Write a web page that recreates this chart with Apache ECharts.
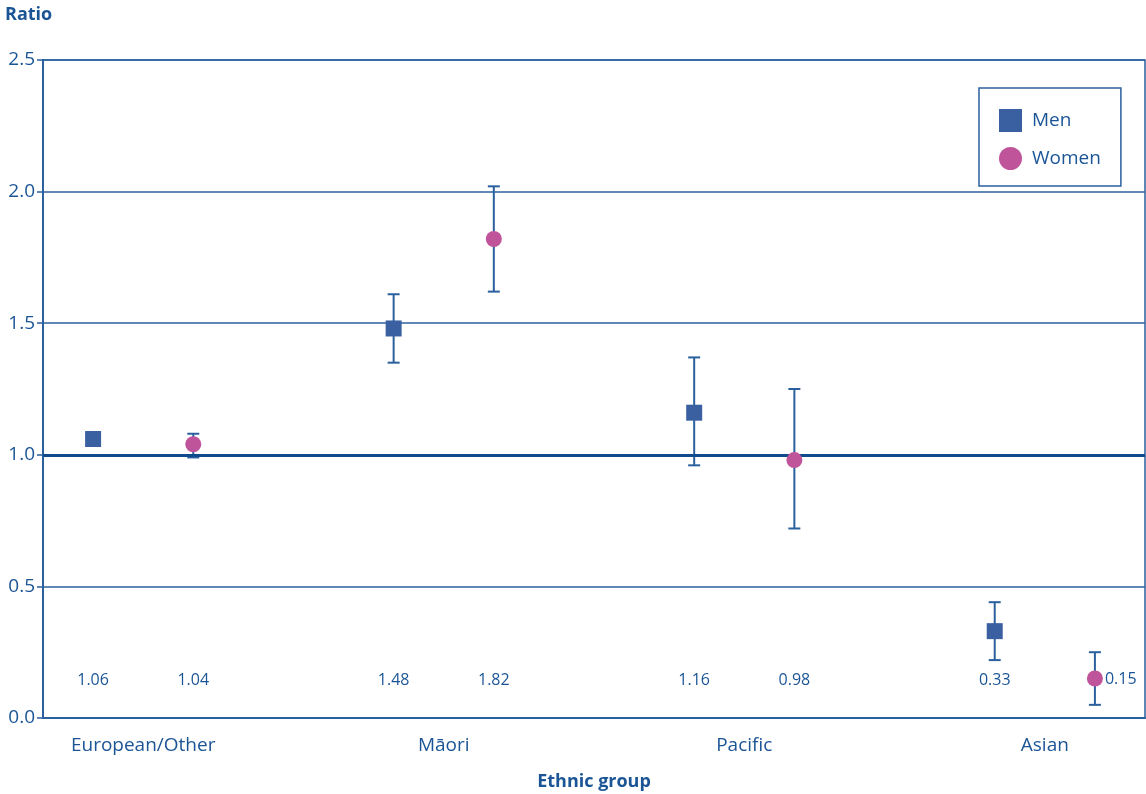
<!DOCTYPE html>
<html><head><meta charset="utf-8">
<script src="https://cdn.jsdelivr.net/npm/echarts@6/dist/echarts.min.js"></script>
<style>html,body{margin:0;padding:0;background:#fff}#c{width:1146px;height:794px}</style>
</head><body><div id="c"></div>
<script>
const groups = ['European/Other', 'Māori', 'Pacific', 'Asian'];
const menRatio = [1.06, 1.48, 1.16, 0.33];
const menLow = [1.05, 1.35, 0.96, 0.22];
const menHigh = [1.07, 1.61, 1.37, 0.44];
const womenRatio = [1.04, 1.82, 0.98, 0.15];
const womenLow = [0.99, 1.62, 0.72, 0.05];
const womenHigh = [1.08, 2.02, 1.25, 0.25];
const yTicks = [0, 0.5, 1.0, 1.5, 2.0, 2.5];
const refLine = 1.0;

const TEXT = '#1b5596';
const LINE = '#2b609e';
const MEN = '#3a60a2';
const WOMEN = '#c0549b';
const FONT = '"Open Sans", sans-serif';
const LABEL_Y = 0.145;

const center = i => 1 + 3 * i;
const menPts = menRatio.map((v, i) => [center(i) - 0.5, v, menLow[i], menHigh[i]]);
const womenPts = womenRatio.map((v, i) => [center(i) + 0.5, v, womenLow[i], womenHigh[i]]);

function errRender(params, api) {
  const x = api.value(0);
  const lo = api.coord([x, api.value(2)]);
  const hi = api.coord([x, api.value(3)]);
  const w = 6;
  const st = { stroke: LINE, lineWidth: 2 };
  return { type: 'group', children: [
    { type: 'line', shape: { x1: hi[0], y1: hi[1], x2: lo[0], y2: lo[1] }, style: st },
    { type: 'line', shape: { x1: hi[0] - w, y1: hi[1], x2: hi[0] + w, y2: hi[1] }, style: st },
    { type: 'line', shape: { x1: lo[0] - w, y1: lo[1], x2: lo[0] + w, y2: lo[1] }, style: st }
  ]};
}
function labelRender(params, api) {
  const x = api.value(0), v = api.value(1);
  const overlap = Math.abs(v - LABEL_Y) < 0.08;
  let p, align;
  if (overlap) { p = api.coord([x, v]); p[0] += 10; align = 'left'; }
  else { p = api.coord([x, LABEL_Y]); align = 'center'; }
  return { type: 'text', x: p[0], y: p[1] + 1, style: {
    text: v.toFixed(2), fill: TEXT, font: '16px ' + FONT, textAlign: align, textVerticalAlign: 'middle' } };
}

const chart = echarts.init(document.getElementById('c'));
chart.setOption({
  animation: false,
  textStyle: { fontFamily: FONT, color: TEXT },
  grid: { left: 43, right: 1, top: 60, bottom: 76, outerBoundsMode: 'none', containLabel: false,
    show: true, borderColor: LINE, borderWidth: 1.5 },
  legend: {
    orient: 'vertical', left: 979, top: 88,
    padding: [21, 20, 16, 20], itemGap: 15, itemWidth: 23, itemHeight: 23,
    borderColor: LINE, borderWidth: 1.5,
    textStyle: { color: TEXT, fontSize: 19, fontFamily: FONT, padding: [4, 0, 0, 5] },
    data: [{ name: 'Men', icon: 'rect' }, { name: 'Women', icon: 'circle' }]
  },
  xAxis: {
    type: 'value', min: 0, max: 11, interval: 1,
    name: 'Ethnic group', nameLocation: 'middle', nameGap: 55,
    nameTextStyle: { color: TEXT, fontSize: 18, fontWeight: 'bold', fontFamily: FONT },
    axisLine: { show: true, lineStyle: { color: LINE, width: 2 } },
    axisTick: { show: false }, splitLine: { show: false },
    axisLabel: { color: TEXT, fontSize: 19, margin: 18, fontFamily: FONT,
      formatter: v => { const i = groups.findIndex((g, k) => center(k) === v); return i >= 0 ? groups[i] : ''; } }
  },
  yAxis: {
    type: 'value', min: 0, max: 2.5, interval: 0.5,
    name: 'Ratio', nameLocation: 'end', nameGap: 0,
    nameTextStyle: { color: TEXT, fontSize: 18, fontWeight: 'bold', fontFamily: FONT, align: 'left', padding: [0, 0, 36, -38] },
    axisLine: { show: true, lineStyle: { color: LINE, width: 2 } },
    axisTick: { show: true, length: 6, lineStyle: { color: LINE, width: 1.5 } },
    splitLine: { show: true, lineStyle: { color: LINE, width: 1.5 } },
    axisLabel: { color: TEXT, fontSize: 19, margin: 8, fontFamily: FONT, formatter: v => v.toFixed(1) }
  },
  series: [
    { type: 'custom', name: 'errMen', renderItem: errRender, data: menPts, z: 2, silent: true,
      markLine: { silent: true, symbol: 'none', label: { show: false },
        lineStyle: { color: '#0f4a8c', width: 3, type: 'solid' }, data: [{ yAxis: refLine }] } },
    { type: 'custom', name: 'errWomen', renderItem: errRender, data: womenPts, z: 2, silent: true },
    { type: 'scatter', name: 'Men', symbol: 'rect', symbolSize: 16, data: menPts.map(p => [p[0], p[1]]),
      itemStyle: { color: MEN, opacity: 1 }, z: 5 },
    { type: 'scatter', name: 'Women', symbol: 'circle', symbolSize: 16, data: womenPts.map(p => [p[0], p[1]]),
      itemStyle: { color: WOMEN, opacity: 1 }, z: 5 },
    { type: 'custom', name: 'labels', renderItem: labelRender, data: menPts.concat(womenPts), z: 6, silent: true }
  ]
});
</script></body></html>
